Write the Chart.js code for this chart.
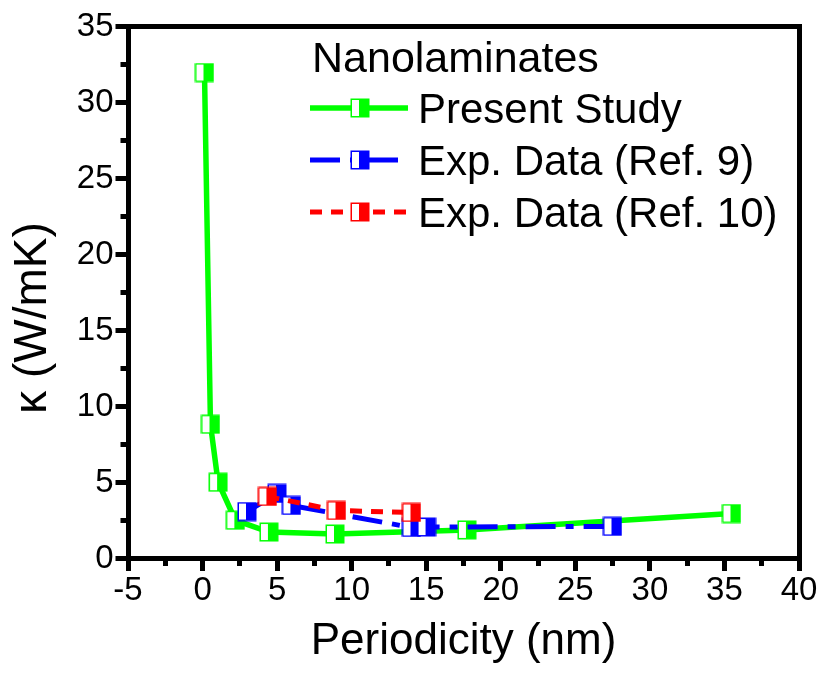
<!DOCTYPE html>
<html>
<head>
<meta charset="utf-8">
<script src="https://cdn.jsdelivr.net/npm/chart.js@4.4.1/dist/chart.umd.min.js"></script>
<style>
  html, body { margin: 0; padding: 0; background: #fff; }
  canvas { display: block; }
</style>
</head>
<body>
<canvas id="c" width="823" height="674"></canvas>
<script>
// ---- data ----
const legendTitle = "Nanolaminates";
const seriesLabels = ["Present Study", "Exp. Data (Ref. 9)", "Exp. Data (Ref. 10)"];

const presentX = [0.13, 0.53, 1.04, 2.2, 4.45, 8.88, 17.73, 35.47];
const presentY = [31.97, 8.83, 5.02, 2.52, 1.74, 1.61, 1.88, 2.96];

const ref9X = [2.98, 4.99, 5.96, 14.01, 15.02, 27.49];
const ref9Y = [3.09, 4.28, 3.49, 2.04, 2.07, 2.11];

const ref10X = [4.35, 8.98, 14.01];
const ref10Y = [4.08, 3.16, 3.03];

const xTickMin = -5, xTickMax = 40, xMajorStep = 5, xMinorStep = 2.5;
const yTickMin = 0, yTickMax = 35, yMajorStep = 5, yMinorStep = 2.5;

const xTitle = "Periodicity (nm)";
const yTitle = "\u03BA (W/mK)";

// ---- helpers ----
function pts(xs, ys) { return xs.map((x, i) => ({ x: x, y: ys[i] })); }

function makeMarker(color) {
  const c = document.createElement('canvas');
  c.width = 20; c.height = 20;
  const g = c.getContext('2d');
  g.fillStyle = '#fff';
  g.fillRect(1, 1, 18, 18);
  g.fillStyle = color;
  g.fillRect(9, 1, 10, 18);
  g.strokeStyle = color;
  g.lineWidth = 1.5;
  g.strokeRect(1.25, 1.25, 17.5, 17.5);
  return c;
}

const GREEN = '#00ff00', BLUE = '#0000ff', RED = '#ff0000';
const FONT = '"Liberation Sans", Arial, sans-serif';

Chart.defaults.font.family = FONT;
Chart.defaults.color = '#000';

const legendPlugin = {
  id: 'customLegend',
  afterDraw(chart) {
    const ctx = chart.ctx;
    const rowsY = [108, 160, 212];
    ctx.save();
    ctx.fillStyle = '#000';
    ctx.textBaseline = 'alphabetic';
    ctx.textAlign = 'left';
    ctx.font = '43px ' + FONT;
    ctx.fillText(legendTitle, 312, 72);
    chart.data.datasets.forEach((ds, i) => {
      const y = rowsY[i];
      ctx.beginPath();
      ctx.setLineDash(ds.borderDash || []);
      ctx.lineDashOffset = 0;
      ctx.lineWidth = ds.borderWidth;
      ctx.strokeStyle = ds.borderColor;
      ctx.lineCap = 'butt';
      ctx.moveTo(310, y);
      ctx.lineTo(408, y);
      ctx.stroke();
      ctx.setLineDash([]);
      ctx.drawImage(ds.pointStyle, 350, y - 10);
      ctx.font = '42px ' + FONT;
      ctx.fillStyle = '#000';
      ctx.fillText(ds.label, 418, y + 15);
    });
    ctx.restore();
  }
};

const majorGrid = {
  display: true, drawOnChartArea: false, drawTicks: true,
  tickLength: 12.5, tickWidth: 5, tickColor: '#000', lineWidth: 5, color: '#000'
};
const minorGrid = {
  display: true, drawOnChartArea: false, drawTicks: true,
  tickLength: 7.5, tickWidth: 5, tickColor: '#000', lineWidth: 5, color: '#000'
};

new Chart(document.getElementById('c'), {
  type: 'line',
  data: {
    datasets: [
      {
        label: seriesLabels[0],
        data: pts(presentX, presentY),
        borderColor: GREEN, backgroundColor: GREEN,
        borderWidth: 5.5, tension: 0,
        pointStyle: makeMarker(GREEN), pointRadius: 10,
        order: 2
      },
      {
        label: seriesLabels[1],
        data: pts(ref9X, ref9Y),
        borderColor: BLUE, backgroundColor: BLUE,
        borderWidth: 5, borderDash: [30, 10, 8, 10], tension: 0,
        pointStyle: makeMarker(BLUE), pointRadius: 10,
        order: 1
      },
      {
        label: seriesLabels[2],
        data: pts(ref10X, ref10Y),
        borderColor: RED, backgroundColor: RED,
        borderWidth: 5, borderDash: [12, 9], tension: 0,
        pointStyle: makeMarker(RED), pointRadius: 10,
        order: 0
      }
    ]
  },
  options: {
    responsive: false,
    animation: false,
    devicePixelRatio: 1,
    layout: { padding: { top: 26.5, right: 24, left: 0, bottom: 0 } },
    plugins: { legend: { display: false }, tooltip: { enabled: false } },
    scales: {
      x: {
        type: 'linear', position: 'bottom', weight: 1,
        min: xTickMin, max: xTickMax,
        border: { display: true, width: 5, color: '#000' },
        grid: majorGrid,
        ticks: {
          stepSize: xMajorStep, autoSkip: false, maxRotation: 0, padding: 0,
          font: { size: 33 }, color: '#000'
        },
        title: { display: true, text: xTitle, font: { size: 44 }, color: '#000', padding: { top: 0, bottom: 6 } },
        afterFit: s => { s.height = 115.5; }
      },
      xMinor: {
        type: 'linear', position: 'bottom', weight: 0,
        min: xTickMin, max: xTickMax,
        border: { display: false },
        grid: minorGrid,
        ticks: { stepSize: xMinorStep, autoSkip: false, maxRotation: 0, callback: () => '' },
        afterFit: s => { s.height = 0; }
      },
      y: {
        type: 'linear', position: 'left', weight: 1,
        min: yTickMin, max: yTickMax,
        border: { display: true, width: 5, color: '#000' },
        grid: majorGrid,
        ticks: {
          stepSize: yMajorStep, autoSkip: false, padding: 2,
          font: { size: 33 }, color: '#000'
        },
        title: { display: true, text: yTitle + '    ', font: { size: 46 }, color: '#000', padding: { top: 6, bottom: 0 } },
        afterFit: s => { s.width = 128; }
      },
      yMinor: {
        type: 'linear', position: 'left', weight: 0,
        min: yTickMin, max: yTickMax,
        border: { display: false },
        grid: minorGrid,
        ticks: { stepSize: yMinorStep, autoSkip: false, callback: () => '' },
        afterFit: s => { s.width = 0; }
      },
      x2: {
        type: 'linear', position: 'top', min: xTickMin, max: xTickMax,
        border: { display: true, width: 5, color: '#000' },
        grid: { display: false, drawTicks: false },
        ticks: { display: false },
        afterFit: s => { s.height = 0; }
      },
      y2: {
        type: 'linear', position: 'right', min: yTickMin, max: yTickMax,
        border: { display: true, width: 5, color: '#000' },
        grid: { display: false, drawTicks: false },
        ticks: { display: false },
        afterFit: s => { s.width = 0; }
      }
    }
  },
  plugins: [legendPlugin]
});
</script>
</body>
</html>
